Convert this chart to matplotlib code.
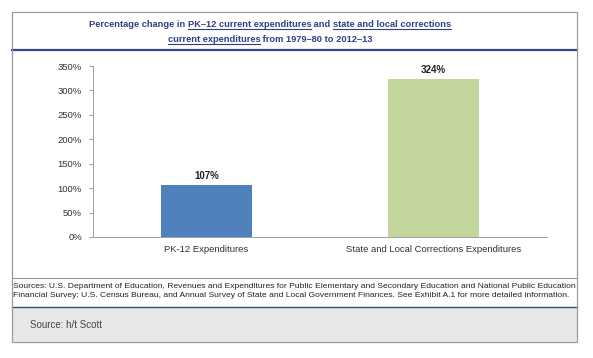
import matplotlib.pyplot as plt
from matplotlib.lines import Line2D
from matplotlib.patches import Rectangle

# datos del grafico
categorias = ["PK-12 Expenditures", "State and Local Corrections Expenditures"]
valores = [107, 324]
colores = ["#4F81BD", "#C3D69B"]
ticks_y = [0, 50, 100, 150, 200, 250, 300, 350]

titulo_1 = [("Percentage change in ", False), ("PK\u201312 current expenditures", True),
            (" and ", False), ("state and local corrections", True)]
titulo_2 = [("current expenditures", True), (" from 1979\u201380 to 2012\u201313", False)]
fuentes = ("Sources: U.S. Department of Education, Revenues and Expenditures for Public Elementary and Secondary Education and National Public Education\n"
           "Financial Survey; U.S. Census Bureau, and Annual Survey of State and Local Government Finances. See Exhibit A.1 for more detailed information.")
fuente_2 = "Source: h/t Scott"

W, H = 593, 358
fig = plt.figure(figsize=(W / 100, H / 100), dpi=100)
plt.rcParams['font.family'] = ['Liberation Sans', 'DejaVu Sans']

def fx(x):
    return x / W

def fy(y):
    return 1 - y / H

# marco exterior y zona gris
fig.patches.append(Rectangle((fx(12), fy(342)), fx(577) - fx(12), fy(307) - fy(342),
                             transform=fig.transFigure, facecolor="#E8E8E8", edgecolor="none", zorder=0))
fig.patches.append(Rectangle((fx(12), fy(342)), fx(577) - fx(12), fy(12) - fy(342),
                             transform=fig.transFigure, facecolor="none", edgecolor="#9A9A9A", lw=0.9, zorder=5))
fig.lines.append(Line2D([fx(12), fx(577)], [fy(50), fy(50)], transform=fig.transFigure, color="#2E4A8C", lw=1.6))
fig.lines.append(Line2D([fx(12), fx(577)], [fy(278), fy(278)], transform=fig.transFigure, color="#9A9A9A", lw=0.8))
fig.lines.append(Line2D([fx(12), fx(577)], [fy(307), fy(307)], transform=fig.transFigure, color="#3A4A78", lw=1.0))

# titulo con partes subrayadas
color_titulo = "#2E3F86"
renderer = fig.canvas.get_renderer()

def linea_titulo(partes, y, centro=270):
    textos = []
    total = 0
    for s, sub in partes:
        t = fig.text(0, fy(y), s, fontsize=6.7, fontweight="bold", color=color_titulo,
                     va="baseline", ha="left")
        w = t.get_window_extent(renderer).width
        textos.append((t, w, sub))
        total += w
    x = centro - total / 2
    for t, w, sub in textos:
        t.set_x(fx(x))
        if sub:
            fig.lines.append(Line2D([fx(x), fx(x + w)], [fy(y + 2), fy(y + 2)],
                                    transform=fig.transFigure, color=color_titulo, lw=0.8))
        x += w

linea_titulo(titulo_1, 27)
linea_titulo(titulo_2, 42)

# ejes
ax = fig.add_axes([fx(93), fy(237), fx(547) - fx(93), fy(66) - fy(237)])
pos = range(len(categorias))
ax.bar(pos, valores, width=0.4, color=colores, zorder=2)
ax.set_xlim(-0.5, 1.5)
ax.set_ylim(0, 350)
ax.set_yticks(ticks_y)
ax.set_yticklabels([f"{t}%" for t in ticks_y], fontsize=6.8, color="#333333")
ax.set_xticks(list(pos))
ax.set_xticklabels(categorias, fontsize=6.8, color="#333333")
ax.tick_params(axis="x", length=0, pad=6)
ax.tick_params(axis="y", length=3, color="#A0A0A0", pad=5)
for lado in ["top", "right"]:
    ax.spines[lado].set_visible(False)
ax.spines["left"].set_color("#A0A0A0")
ax.spines["bottom"].set_color("#A0A0A0")
ax.spines["left"].set_linewidth(0.7)
ax.spines["bottom"].set_linewidth(0.7)
ax.set_facecolor("none")

for x, v in zip(pos, valores):
    ax.text(x, v + 8, f"{v}%", ha="center", va="bottom", fontsize=7, fontweight="bold", color="#222222")

# fuentes
fig.text(fx(13), fy(291), fuentes, fontsize=6.1, color="#222222", va="center", ha="left", linespacing=1.4)
fig.text(fx(30), fy(325), fuente_2, fontsize=7, color="#444444", va="center", ha="left")

fig.savefig("out.png", dpi=100)
